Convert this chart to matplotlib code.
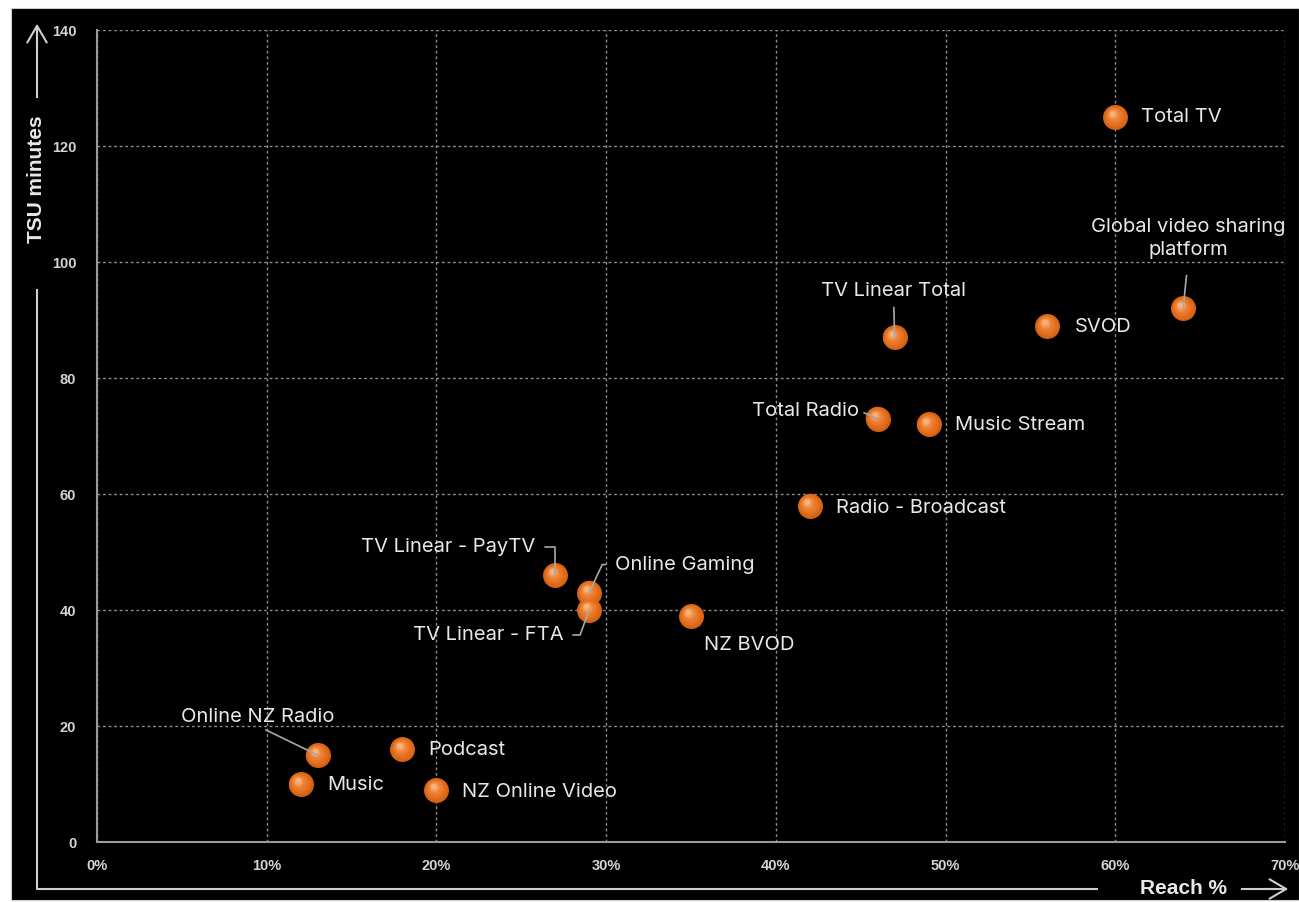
import numpy as np
import matplotlib
matplotlib.use("Agg")
import matplotlib.pyplot as plt
from matplotlib.colors import to_rgb
from matplotlib.lines import Line2D
from matplotlib.patches import Rectangle, FancyArrowPatch
from matplotlib.transforms import offset_copy

# Данные: охват (%) и время (TSU, минуты)
labels = ["Total TV", "Global video sharing\nplatform", "SVOD", "TV Linear Total",
          "Total Radio", "Music Stream", "Radio - Broadcast", "TV Linear - PayTV",
          "Online Gaming", "TV Linear - FTA", "NZ BVOD", "Online NZ Radio",
          "Podcast", "Music", "NZ Online Video"]
reach = [60, 64, 56, 47, 46, 49, 42, 27, 29, 29, 35, 13, 18, 12, 20]
tsu = [125, 92, 89, 87, 73, 72, 58, 46, 43, 40, 39, 15, 16, 10, 9]

x_ticks = [0, 10, 20, 30, 40, 50, 60, 70]
y_ticks = [0, 20, 40, 60, 80, 100, 120, 140]

# Подписи: смещение в пикселях, выравнивание, выноска
PX = 0.72
layout = {
    "Total TV": (26, 0, "left", None),
    "Global video sharing\nplatform": (5, 70, "center", ("arc3", (0.5, 0), 10, 0)),
    "SVOD": (27, -1, "left", None),
    "TV Linear Total": (-1, 46, "center", ("arc3", (0.5, 0), 3, 0)),
    "Total Radio": (-19, 8, "right", ("arc3", (1, 0.5), 2, 0)),
    "Music Stream": (26, -1, "left", None),
    "Radio - Broadcast": (26, -2, "left", None),
    "TV Linear - PayTV": (-20, 28, "right", ("angle,angleA=0,angleB=90,rad=0", (1, 0.5), 5, 0)),
    "Online Gaming": (26, 28, "left", ("angle,angleA=0,angleB=65,rad=0", (0, 0.5), 5, 0)),
    "TV Linear - FTA": (-26, -25, "right", ("angle,angleA=0,angleB=70,rad=0", (1, 0.5), 5, 0)),
    "NZ BVOD": (13, -29, "left", None),
    "Online NZ Radio": (-60, 38, "center", ("arc3", (0.5, 0), 2, 0)),
    "Podcast": (26, -1, "left", None),
    "Music": (27, -1, "left", None),
    "NZ Online Video": (26, -2, "left", None),
}

W, H = 1299, 902
fig = plt.figure(figsize=(W / 100, H / 100), dpi=100, facecolor="white")
fig.add_artist(Rectangle((11 / W, 1 - 900 / H), (W - 11) / W, (900 - 8) / H,
                         transform=fig.transFigure, facecolor="black",
                         edgecolor="#cccccc", lw=0.8, zorder=0))

ax = fig.add_axes([97 / W, 1 - 842 / H, (1285 - 97) / W, (842 - 30) / H])
ax.set_facecolor("black")
ax.set_xlim(0, 70)
ax.set_ylim(0, 140)
ax.set_xticks(x_ticks)
ax.set_yticks(y_ticks)
ax.set_xticklabels([f"{v}%" for v in x_ticks])
ax.tick_params(length=0, colors="#d4d4d4", labelsize=10.5)
ax.tick_params(axis="x", pad=12)
ax.tick_params(axis="y", pad=15)
for lbl in ax.get_xticklabels() + ax.get_yticklabels():
    lbl.set_fontfamily("Liberation Sans")
    lbl.set_fontweight("bold")
ax.grid(True, color="#8c8c8c", ls=(0, (2, 2)), lw=1)
ax.set_axisbelow(True)
for s in ["top", "right"]:
    ax.spines[s].set_visible(False)
for s in ["left", "bottom"]:
    ax.spines[s].set_color("#9a9a9a")
    ax.spines[s].set_linewidth(1.5)

# Шарики: слоями от края к мягкому блику
edge = np.array(to_rgb("#d2600f"))
mid = np.array(to_rgb("#ec7a2a"))
hi = np.array(to_rgb("#f9b27a"))
r0 = 9.0
n = 14
for i in range(n):
    t = i / (n - 1)
    if t < 0.5:
        col = edge + (mid - edge) * (t / 0.5)
    else:
        col = mid + (hi - mid) * ((t - 0.5) / 0.5) ** 1.5
    r = r0 * (1 - 0.8 * t)
    tr = offset_copy(ax.transData, fig=fig, x=-0.25 * r0 * t, y=0.3 * r0 * t, units="points")
    ax.scatter(reach, tsu, s=(2 * r) ** 2, color=col, transform=tr,
               linewidths=0, zorder=3 + i * 0.01)

for name, x, y in zip(labels, reach, tsu):
    dx, dy, ha, conn = layout[name]
    kw = dict(xy=(x, y), xytext=(dx * PX, dy * PX), textcoords="offset points",
              ha=ha, va="center", color="#e8e8e8", fontsize=14.5,
              fontfamily="Inter", multialignment="center", linespacing=1.35, zorder=6)
    if conn is not None:
        style, relpos, sa, sb = conn
        kw["arrowprops"] = dict(arrowstyle="-", color="#a8a8a8", lw=1.2,
                                connectionstyle=style, relpos=relpos,
                                shrinkA=sa, shrinkB=sb)
    ax.annotate(name, **kw)

# Рамка-стрелки осей
line_kw = dict(color="#cfcfcf", lw=1.5, transform=fig.transFigure)
fig.add_artist(Line2D([37 / W, 37 / W], [1 - 40 / H, 1 - 97 / H], **line_kw))
fig.add_artist(Line2D([37 / W, 37 / W, 1097 / W], [1 - 290 / H, 1 - 889 / H, 1 - 889 / H], **line_kw))
fig.add_artist(Line2D([1242 / W, 1275 / W], [1 - 889 / H, 1 - 889 / H], **line_kw))
arrow_kw = dict(arrowstyle="->,head_length=0.6,head_width=0.35", color="#cfcfcf", lw=1.5,
                mutation_scale=20, transform=fig.transFigure)
fig.add_artist(FancyArrowPatch((37 / W, 1 - 50 / H), (37 / W, 1 - 21 / H), **arrow_kw))
fig.add_artist(FancyArrowPatch((1262 / W, 1 - 889 / H), (1291 / W, 1 - 889 / H), **arrow_kw))

fig.text(37 / W, 1 - 179 / H, "TSU minutes", rotation=90, ha="center", va="center",
         color="#e8e8e8", fontsize=15, fontweight="bold", fontfamily="Liberation Sans")
fig.text(1183 / W, 1 - 889 / H, "Reach %", ha="center", va="center",
         color="#e8e8e8", fontsize=15, fontweight="bold", fontfamily="Liberation Sans")

fig.savefig("out.png", dpi=100, facecolor="white")
